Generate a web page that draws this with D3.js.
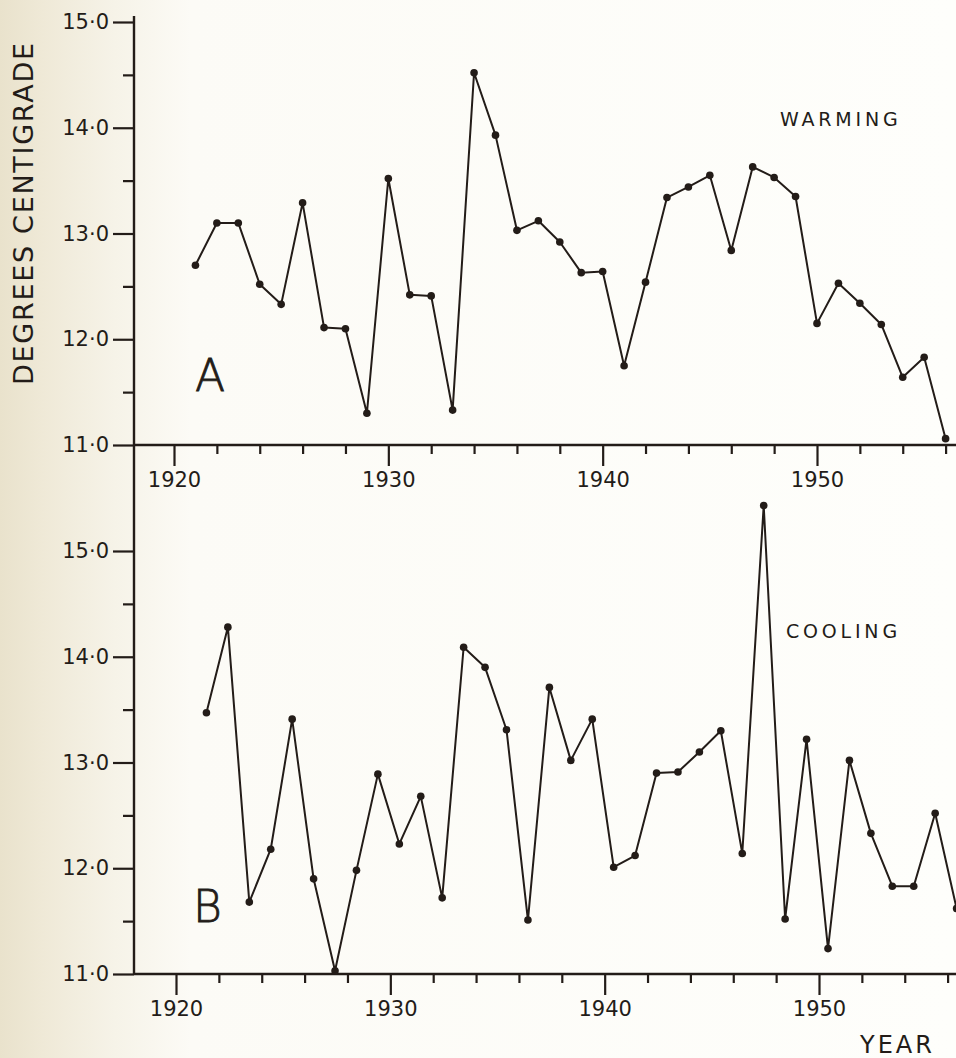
<!DOCTYPE html>
<html>
<head>
<meta charset="utf-8">
<script src="https://cdn.jsdelivr.net/npm/d3@7"></script>
<style>
  html, body { margin: 0; padding: 0; background: #fdfcf8; }
  svg { display: block; }
</style>
</head>
<body>
<script>
// yearly temperatures
const years = d3.range(1921, 1957);
const warming = [12.70, 13.10, 13.10, 12.52, 12.33, 13.29, 12.11, 12.10, 11.30, 13.52,
                 12.42, 12.41, 11.33, 14.52, 13.93, 13.03, 13.12, 12.92, 12.63, 12.64,
                 11.75, 12.54, 13.34, 13.44, 13.55, 12.84, 13.63, 13.53, 13.35, 12.15,
                 12.53, 12.34, 12.14, 11.64, 11.83, 11.06];
const cooling = [13.47, 14.28, 11.68, 12.18, 13.41, 11.90, 11.03, 11.98, 12.89, 12.23,
                 12.68, 11.72, 14.09, 13.90, 13.31, 11.51, 13.71, 13.02, 13.41, 12.01,
                 12.12, 12.90, 12.91, 13.10, 13.30, 12.14, 15.43, 11.52, 13.22, 11.24,
                 13.02, 12.33, 11.83, 11.83, 12.52, 11.62];
const yearTicks = [1920, 1930, 1940, 1950];
const yearMinor = d3.range(1920, 1957, 2).filter(d => d % 10);
const tempTicks = [11, 12, 13, 14, 15];
const tempMinor = [11.5, 12.5, 13.5, 14.5];

const width = 956, height = 1058;
const ink = "#231c18";
const font = "'DejaVu Sans', sans-serif";
const coolShift = 0.42; // panel B points were plotted a bit right of the year

const svg = d3.select("body").append("svg")
    .attr("width", width)
    .attr("height", height);

// paper: darker towards the binding on the left
const grad = svg.append("defs").append("linearGradient")
    .attr("id", "paper")
    .attr("x1", 0).attr("x2", 1).attr("y1", 0).attr("y2", 0);
grad.selectAll("stop")
  .data([[0, "#e9e2cc"], [0.045, "#efe9d7"], [0.12, "#f6f3e8"], [0.2, "#fcfbf6"], [1, "#fefefb"]])
  .join("stop")
    .attr("offset", d => d[0])
    .attr("stop-color", d => d[1]);
svg.append("rect")
    .attr("width", width).attr("height", height)
    .attr("fill", "url(#paper)");

const panels = [
  {key: "A", note: "WARMING", values: warming, shift: 0,
   x: d3.scaleLinear().domain([1920, 1950]).range([174, 817]),
   y: d3.scaleLinear().domain([11, 15]).range([445, 22]),
   letter: [195, 391], notePos: [780, 126]},
  {key: "B", note: "COOLING", values: cooling, shift: coolShift,
   x: d3.scaleLinear().domain([1920, 1950]).range([176, 819]),
   y: d3.scaleLinear().domain([11, 15]).range([974, 551]),
   letter: [193, 922], notePos: [786, 638]}
];

const x0 = 134;
const fmt = d => d3.format(".1f")(d).replace(".", "·");

function styleAxis(g, size) {
  g.attr("font-size", null).attr("font-family", null);
  g.select(".domain").remove();
  g.selectAll("line").attr("stroke", ink).attr("stroke-width", 2.2);
  g.selectAll("text")
      .attr("fill", ink)
      .attr("font-family", font)
      .attr("font-size", size);
}

for (const p of panels) {
  const g = svg.append("g");
  const yBase = p.y(11);

  // y ticks
  g.append("g")
      .attr("transform", `translate(${x0},0)`)
      .call(d3.axisLeft(p.y).tickValues(tempTicks).tickSize(21).tickPadding(4).tickFormat(fmt))
      .call(styleAxis, 21);
  g.append("g")
      .attr("transform", `translate(${x0},0)`)
      .call(d3.axisLeft(p.y).tickValues(tempMinor).tickSize(11).tickFormat(""))
      .call(styleAxis, 21);

  // x ticks
  g.append("g")
      .attr("transform", `translate(0,${yBase})`)
      .call(d3.axisBottom(p.x).tickValues(yearTicks).tickSize(21).tickPadding(6).tickFormat(d3.format("d")))
      .call(styleAxis, 21);
  g.append("g")
      .attr("transform", `translate(0,${yBase})`)
      .call(d3.axisBottom(p.x).tickValues(yearMinor).tickSize(9).tickFormat(""))
      .call(styleAxis, 21);

  g.append("line")
      .attr("x1", x0).attr("x2", width)
      .attr("y1", yBase).attr("y2", yBase)
      .attr("stroke", ink).attr("stroke-width", 2.4);

  const pts = years.map((yr, i) => [p.x(yr + p.shift), p.y(p.values[i])]);

  g.append("path")
      .attr("d", d3.line()(pts))
      .attr("fill", "none")
      .attr("stroke", ink)
      .attr("stroke-width", 2)
      .attr("stroke-linejoin", "round");

  g.append("g").selectAll("circle")
    .data(pts)
    .join("circle")
      .attr("cx", d => d[0])
      .attr("cy", d => d[1])
      .attr("r", 3.8)
      .attr("fill", ink);

  g.append("text")
      .attr("x", p.letter[0]).attr("y", p.letter[1])
      .attr("font-family", font)
      .attr("font-weight", 200)
      .attr("font-size", 44)
      .attr("stroke", ink)
      .attr("stroke-width", 0.8)
      .attr("fill", ink)
      .text(p.key);

  g.append("text")
      .attr("x", p.notePos[0]).attr("y", p.notePos[1])
      .attr("font-family", font)
      .attr("font-size", 19)
      .attr("letter-spacing", 3.8)
      .attr("fill", ink)
      .text(p.note);
}

// one long y axis line through both panels
svg.append("line")
    .attr("x1", x0).attr("x2", x0)
    .attr("y1", 16).attr("y2", panels[1].y(11))
    .attr("stroke", ink).attr("stroke-width", 2.4);

svg.append("text")
    .attr("transform", "translate(33,214) rotate(-90)")
    .attr("text-anchor", "middle")
    .attr("font-family", font)
    .attr("font-size", 27)
    .attr("textLength", 342)
    .attr("lengthAdjust", "spacing")
    .attr("fill", ink)
    .text("DEGREES  CENTIGRADE");

svg.append("text")
    .attr("x", 860).attr("y", 1053)
    .attr("font-family", font)
    .attr("font-size", 24)
    .attr("letter-spacing", 3)
    .attr("fill", ink)
    .text("YEAR");
</script>
</body>
</html>
